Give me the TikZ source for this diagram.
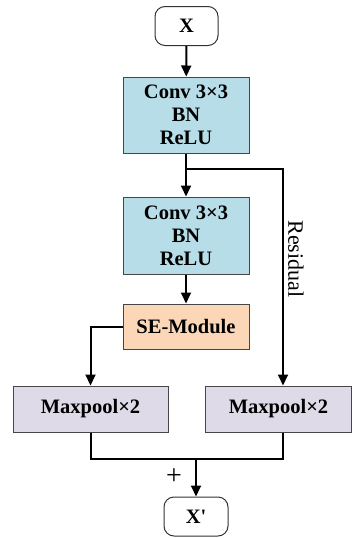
\documentclass[tikz,border=0pt]{standalone}
\usepackage{fontspec}
\setmainfont{Liberation Serif}
\usetikzlibrary{arrows.meta}
\definecolor{convblue}{RGB}{182,221,232}
\definecolor{sepeach}{RGB}{251,214,183}
\definecolor{poollav}{RGB}{222,218,232}
\definecolor{edgegray}{RGB}{70,70,70}
\tikzset{
  blk/.style={draw=edgegray, line width=1pt, inner sep=0pt, align=center,
    font=\fontsize{20.5}{23}\selectfont\bfseries},
  term/.style={draw=black!80, line width=1pt, rounded corners=10pt, inner sep=0pt,
    minimum width=63pt, minimum height=39pt, font=\fontsize{20.5}{23}\selectfont\bfseries},
  flow/.style={line width=2pt, -{Triangle[length=11pt,width=10pt]}},
  wire/.style={line width=2pt}
}
\begin{document}
\begin{tikzpicture}[x=1pt,y=-1pt]
  \useasboundingbox (0,0) rectangle (352,538);
  % input / output terminals
  \node[term] (x) at (186.5,26) {X};
  \node[term, minimum width=64pt] (xo) at (196,516.5) {X\textquotesingle};
  % main path
  \node[blk, fill=convblue, minimum width=126pt, minimum height=76pt] (c1) at (186,115) {Conv 3×3\\BN\\ReLU};
  \node[blk, fill=convblue, minimum width=126pt, minimum height=77pt] (c2) at (186,235.5) {Conv 3×3\\BN\\ReLU};
  \node[blk, fill=sepeach, minimum width=126pt, minimum height=45pt] (se) at (186,326.5) {SE-Module};
  % pooling branches
  \node[blk, fill=poollav, minimum width=155pt, minimum height=46pt] (p1) at (90.5,409) {Maxpool×2};
  \node[blk, fill=poollav, minimum width=146pt, minimum height=46pt] (p2) at (278.5,409) {Maxpool×2};
  % split and merge points
  \coordinate (split) at (186,169);
  \coordinate (sew) at (90.5,326.5);
  \coordinate (m1) at (90.5,459);
  \coordinate (m2) at (283,459);
  \coordinate (mc) at (196,459);
  % connectors
  \draw[flow] (x) -- (c1);
  \draw[flow] (c1) -- (c2);
  \draw[flow] (c2) -- (se);
  \draw[flow] (split) -| (p2.north -| m2);
  \draw[flow] (se.west) -- (sew) -- (p1.north);
  \draw[wire] (p1.south) -- (m1) -- (m2) -- (p2.south -| m2);
  \draw[flow] (mc) -- (xo);
  % labels
  \node[font=\fontsize{22}{24}\selectfont, rotate=-90] (res) at (296,259) {Residual};
  \node[font=\fontsize{28}{30}\selectfont] (plus) at (174,477) {+};
\end{tikzpicture}
\end{document}
